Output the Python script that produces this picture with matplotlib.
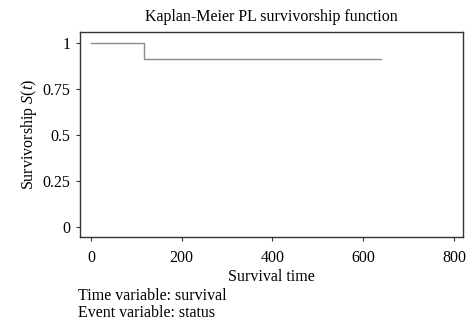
import matplotlib
matplotlib.use("Agg")
import matplotlib.pyplot as plt

times = [0, 118, 639]
survival = [1.0, 0.911, 0.911]
xticks = [0, 200, 400, 600, 800]
yticks = [0, 0.25, 0.5, 0.75, 1]
ytick_labels = ["0", "0.25", "0.5", "0.75", "1"]

plt.rcParams['font.family'] = ['Liberation Serif', 'DejaVu Serif']
plt.rcParams['mathtext.fontset'] = 'custom'
plt.rcParams['mathtext.it'] = 'Liberation Serif:italic'
plt.rcParams['mathtext.rm'] = 'Liberation Serif'

fig = plt.figure(figsize=(4.76, 3.31), dpi=100)
ax = fig.add_axes([80/476, 1-237/331, (463-80)/476, (237-32)/331])
ax.step(times, survival, where='post', color='#8a8a8a', linewidth=1.0)
ax.set_xlim(-24, 820)
ax.set_ylim(-0.054, 1.06)
ax.set_xticks(xticks)
ax.set_yticks(yticks)
ax.set_yticklabels(ytick_labels)
ax.tick_params(labelsize=11.5, length=3, width=0.8, color='#333333')
ax.tick_params(axis='x', pad=6)
ax.tick_params(axis='y', pad=4)
for s in ax.spines.values():
    s.set_linewidth(1.0)
    s.set_color('#333333')
ax.set_title("Kaplan-Meier PL survivorship function", fontsize=11.5, pad=8)
ax.set_xlabel("Survival time", fontsize=11.5, va='center')
ax.xaxis.set_label_coords(0.5, -(277-237)/205)
ax.set_ylabel(r"Survivorship $S(t)$", fontsize=11.5, va='center')
ax.yaxis.set_label_coords(-(80-29)/383, 0.5)
fig.text(78/476, 1-296/331, "Time variable: survival", fontsize=11.5, va='center')
fig.text(78/476, 1-313/331, "Event variable: status", fontsize=11.5, va='center')
fig.savefig("out.png", dpi=100)
